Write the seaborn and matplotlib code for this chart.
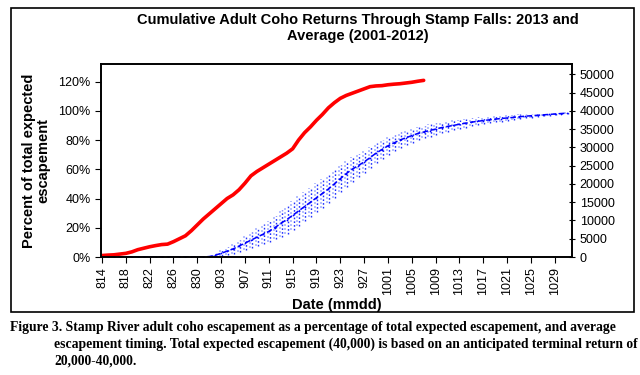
import numpy as np
import matplotlib
matplotlib.use("Agg")
import matplotlib.pyplot as plt
from matplotlib.patches import Rectangle
from matplotlib.ticker import FuncFormatter
import seaborn as sns
import pandas as pd

# categories: daily dates 14 Aug - 31 Oct, labelled mmdd
dates = pd.date_range("2013-08-14", "2013-10-31")
date_labels = [f"{d.month}{d.day:02d}" for d in dates]

# 2013 cumulative return (% of total expected escapement), 814 - 1007
pct_2013 = [1.0, 1.3, 1.5, 2.0, 2.5, 3.5, 5.0, 6.0, 7.0, 7.8,
            8.5, 8.8, 10.5, 12.5, 14.5, 18.0, 22.0, 26.0, 29.5, 33.0,
            36.5, 40.0, 42.5, 46.0, 50.5, 55.5, 58.5, 61.0, 63.5, 66.0,
            68.5, 71.0, 74.0, 80.0, 85.0, 89.0, 93.5, 97.5, 102.0, 105.5,
            108.5, 110.5, 112.0, 113.5, 115.0, 116.5, 117.0, 117.2, 117.8, 118.2,
            118.5, 119.0, 119.5, 120.2, 120.8]

# average timing 2001-2012 (% of total) and spread
pct_avg = [0, 0, 0, 0, 0, 0, 0, 0, 0, 0,
           0, 0, 0, 0, 0, 0, 0, 0, 0.3, 1.2,
           2.5, 4.0, 5.5, 7.5, 9.5, 11.5, 13.5, 15.5, 17.5, 20.0,
           23.0, 25.5, 28.5, 31.5, 34.5, 37.5, 40.5, 43.5, 46.5, 50.0,
           53.5, 57.0, 60.0, 62.5, 65.0, 68.0, 71.0, 73.5, 76.0, 78.0,
           80.0, 81.5, 83.0, 84.5, 85.5, 86.5, 87.5, 88.5, 89.3, 90.0,
           90.8, 91.5, 92.2, 92.8, 93.3, 93.8, 94.3, 94.7, 95.1, 95.5,
           95.9, 96.3, 96.6, 96.9, 97.2, 97.5, 97.8, 98.1, 98.4]
pct_err = [0, 0, 0, 0, 0, 0, 0, 0, 0, 0,
           0, 0, 0, 0, 0, 0, 0, 0, 0.5, 1.2,
           2.0, 2.8, 3.5, 4.2, 5.0, 5.6, 6.2, 6.8, 7.4, 8.0,
           9.0, 9.5, 10.0, 10.0, 10.0, 10.0, 10.0, 9.8, 9.6, 9.4,
           9.2, 9.0, 8.5, 8.0, 7.5, 7.2, 6.8, 6.4, 6.0, 5.6,
           5.3, 5.0, 4.8, 4.6, 4.4, 4.2, 4.0, 3.8, 3.6, 3.4,
           3.2, 3.0, 2.9, 2.8, 2.6, 2.4, 2.2, 2.1, 2.0, 1.9,
           1.7, 1.5, 1.3, 1.2, 1.0, 0.9, 0.7, 0.6, 0.5]

total_expected = 40000

sns.set_style("ticks")
plt.rcParams['font.family'] = ['Liberation Sans', 'DejaVu Sans']
plt.rcParams['text.color'] = 'black'
plt.rcParams['axes.labelcolor'] = 'black'
plt.rcParams['xtick.color'] = 'black'
plt.rcParams['ytick.color'] = 'black'

df13 = pd.DataFrame({"day": np.arange(len(pct_2013)), "pct": pct_2013})
dfav = pd.DataFrame({"day": np.arange(len(pct_avg)), "pct": pct_avg, "err": pct_err})

fig = plt.figure(figsize=(6.4, 3.75), dpi=100)
ax = fig.add_axes([101/640, 1-257/375, 471/640, 193/375])

# error bars drawn as dotted verticals (two shades)
lo = dfav["pct"] - dfav["err"]
hi = dfav["pct"] + dfav["err"]
ax.vlines(dfav["day"] - 0.2, lo, hi, colors="#a8b4ff", linestyles=(0, (1.2, 1.2)), lw=1.2)
ax.vlines(dfav["day"] + 0.15, lo, hi, colors="#2030ff", linestyles=(0, (1.2, 1.5)), lw=1.0)

sns.lineplot(data=dfav, x="day", y="pct", ax=ax, color="#0000ff", lw=1.1,
             linestyle="--", marker=".", markersize=2.5, markeredgewidth=0)
sns.lineplot(data=df13, x="day", y="pct", ax=ax, color="#ff0000", lw=2.6)

ax.set_xlim(-0.17, 78.9)
ax.set_ylim(0, 132)
ax.set_yticks(range(0, 121, 20))
ax.yaxis.set_major_formatter(FuncFormatter(lambda v, p: f"{v:.0f}%"))
xt = list(range(0, 77, 4))
ax.set_xticks(xt)
ax.set_xticklabels([date_labels[i] for i in xt], rotation=90)
ax.tick_params(labelsize=9, length=4, width=0.8, color="black")
ax.set_xlabel("Date (mmdd)", fontsize=10.5, fontweight="bold", labelpad=2)
ax.set_ylabel("Percent of total expected\nescapement", fontsize=10.5,
              fontweight="bold", labelpad=6, linespacing=1.0)
for s in ax.spines.values():
    s.set_linewidth(1.2)
    s.set_color("black")

ax2 = ax.twinx()
ax2.set_ylim(0, 132 * total_expected / 100)
ax2.set_yticks(range(0, 50001, 5000))
ax2.tick_params(labelsize=9, length=4, width=0.8, color="black", direction="inout")
for s in ax2.spines.values():
    s.set_linewidth(1.2)
    s.set_color("black")

fig.text(358/640, 1-28/375, "Cumulative Adult Coho Returns Through Stamp Falls: 2013 and\nAverage (2001-2012)",
         ha="center", va="center", fontsize=10.5, fontweight="bold", linespacing=1.15)

fig.patches.append(Rectangle((11/640, 1-312/375), 623/640, 304/375, transform=fig.transFigure,
                             fill=False, edgecolor="black", lw=1.2))

cap_font = ['Liberation Serif', 'DejaVu Serif']
fig.text(10/640, 1-327/375, "Figure 3. Stamp River adult coho escapement as a percentage of total expected escapement, and average",
         family=cap_font, fontweight="bold", fontsize=9.8, va="center")
fig.text(54/640, 1-344/375, "escapement timing. Total expected escapement (40,000) is based on an anticipated terminal return of",
         family=cap_font, fontweight="bold", fontsize=9.8, va="center")
fig.text(54/640, 1-361/375, "20,000-40,000.",
         family=cap_font, fontweight="bold", fontsize=9.8, va="center")

plt.savefig("out.png", dpi=100)
